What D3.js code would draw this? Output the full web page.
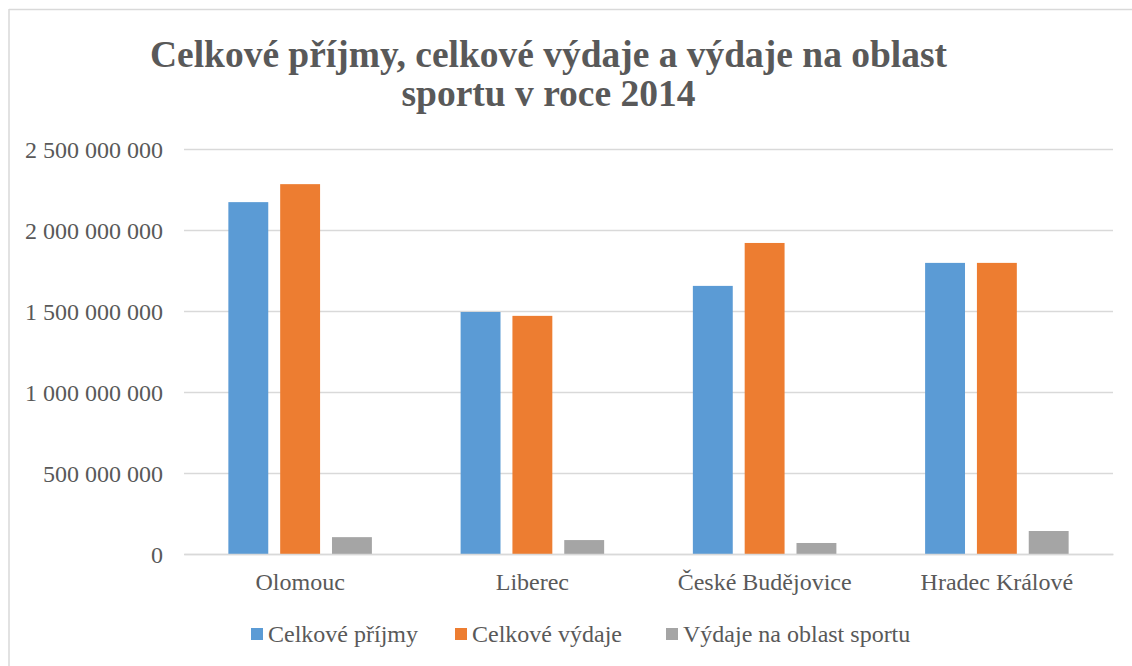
<!DOCTYPE html>
<html>
<head>
<meta charset="utf-8">
<script src="https://cdn.jsdelivr.net/npm/d3@7"></script>
<style>
  html, body { margin: 0; padding: 0; background: #fff; }
  svg { display: block; }
  svg text { font-family: "Liberation Serif", "Times New Roman", serif; }
</style>
</head>
<body>
<div id="chart"></div>
<script>
const categories = ["Olomouc", "Liberec", "České Budějovice", "Hradec Králové"];
const seriesNames = ["Celkové příjmy", "Celkové výdaje", "Výdaje na oblast sportu"];
const prijmy = [2172000000, 1494000000, 1655000000, 1797000000];
const vydaje = [2283000000, 1470000000, 1920000000, 1797000000];
const sport = [104000000, 86000000, 68000000, 142000000];
const yTicks = [0, 500000000, 1000000000, 1500000000, 2000000000, 2500000000];
const colors = ["#5B9BD5", "#ED7D31", "#A5A5A5"];
const titleLines = ["Celkové příjmy, celkové výdaje a výdaje na oblast", "sportu v roce 2014"];

(function () {
const W = 1132, H = 666;
const svg = d3.select("#chart").append("svg").attr("width", W).attr("height", H);
const textColor = "#595959";
const serif = '"Liberation Serif", "Times New Roman", serif';

// chart area border (top & left visible)
svg.append("line").attr("x1", 9).attr("x2", W).attr("y1", 9.5).attr("y2", 9.5)
  .attr("stroke", "#D9D9D9").attr("stroke-width", 1.5);
svg.append("line").attr("x1", 9).attr("x2", 9).attr("y1", 9).attr("y2", H)
  .attr("stroke", "#D9D9D9").attr("stroke-width", 1.5);

// title
const title = svg.append("g").style("font-family", serif).style("font-weight", "bold")
  .style("font-size", "37px").attr("fill", textColor).attr("text-anchor", "middle");
title.append("text").attr("x", 548.5).attr("y", 67).text(titleLines[0])
  .attr("textLength", 797).attr("lengthAdjust", "spacingAndGlyphs");
title.append("text").attr("x", 548.5).attr("y", 106).text(titleLines[1])
  .attr("textLength", 294).attr("lengthAdjust", "spacingAndGlyphs");

const pLeft = 184, pRight = 1113, pTop = 149, pBottom = 554;

const y = d3.scaleLinear().domain([0, 2500000000]).range([pBottom, pTop]);
const x0 = d3.scaleBand().domain(categories).range([pLeft, pRight]).padding(0);
const groupW = x0.bandwidth() * 0.618;
const x1 = d3.scaleBand().domain(seriesNames).range([0, groupW]).paddingInner(0.23).paddingOuter(0);

const fmt = v => d3.format(",")(v).replace(/,/g, " ");

// gridlines
const yAxis = d3.axisLeft(y).tickValues(yTicks).tickSize(-(pRight - pLeft)).tickFormat(fmt).tickPadding(21);
const gy = svg.append("g").attr("transform", `translate(${pLeft},0)`).call(yAxis);
gy.select(".domain").remove();
gy.selectAll(".tick line").attr("stroke", "#D9D9D9").attr("stroke-width", 1.5);
gy.selectAll(".tick text").style("font-family", serif).style("font-size", "24px")
  .attr("fill", textColor).attr("dy", "0.34em");

// bars
const data = [prijmy, vydaje, sport];
categories.forEach((c, ci) => {
  const g = svg.append("g").attr("transform", `translate(${x0(c) + (x0.bandwidth() - groupW) / 2},0)`);
  seriesNames.forEach((s, si) => {
    const v = data[si][ci];
    g.append("rect")
      .attr("x", x1(s)).attr("width", x1.bandwidth())
      .attr("y", y(v)).attr("height", y(0) - y(v))
      .attr("fill", colors[si]);
  });
});

// x axis
const xAxis = d3.axisBottom(x0).tickSize(0).tickPadding(0);
const gx = svg.append("g").attr("transform", `translate(0,${pBottom})`).call(xAxis);
gx.select(".domain").attr("stroke", "#D9D9D9").attr("stroke-width", 1.5);
gx.selectAll(".tick text").style("font-family", serif).style("font-size", "24px")
  .attr("fill", textColor).attr("dy", null).attr("y", 36);

// legend
const legendX = [251, 455, 666];
const legend = svg.append("g").style("font-family", serif).style("font-size", "24px").attr("fill", textColor);
seriesNames.forEach((s, i) => {
  legend.append("rect").attr("x", legendX[i]).attr("y", 628).attr("width", 12).attr("height", 12).attr("fill", colors[i]);
  legend.append("text").attr("x", legendX[i] + 17).attr("y", 642).text(s);
});
})();
</script>
</body>
</html>
